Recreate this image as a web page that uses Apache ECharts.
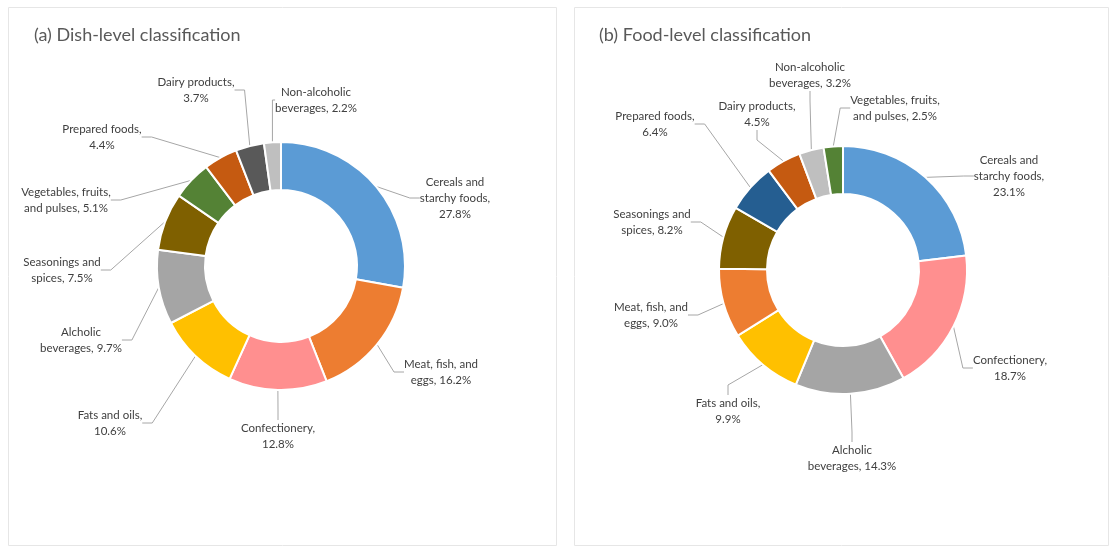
<!DOCTYPE html>
<html>
<head>
<meta charset="utf-8">
<title>Dish-level vs food-level classification</title>
<script src="https://cdn.jsdelivr.net/npm/echarts@6/dist/echarts.min.js"></script>
<style>
  html, body { margin: 0; padding: 0; background: #fff; }
  #chart { width: 1113px; height: 554px; }
</style>
</head>
<body>
<div id="chart"></div>
<script>
// (a) dish-level, clockwise from 12 o'clock
const dishNames = [
  'Cereals and\nstarchy foods', 'Meat, fish, and\neggs', 'Confectionery', 'Fats and oils',
  'Alcholic\nbeverages', 'Seasonings and\nspices', 'Vegetables, fruits,\nand pulses',
  'Prepared foods', 'Dairy products', 'Non-alcoholic\nbeverages'
]
const dishValues = [27.8, 16.2, 12.8, 10.6, 9.7, 7.5, 5.1, 4.4, 3.7, 2.2]
// percent goes on its own line for these
const dishBreak = [true, false, true, true, false, false, false, true, true, false]
const dishColors = ['#5b9bd5', '#ed7d31', '#ff8f8f', '#ffc000', '#a5a5a5', '#7f6000', '#548235', '#c55a11', '#595959', '#bfbfbf']

// (b) food-level
const foodNames = [
  'Cereals and\nstarchy foods', 'Confectionery', 'Alcholic\nbeverages', 'Fats and oils',
  'Meat, fish, and\neggs', 'Seasonings and\nspices', 'Prepared foods', 'Dairy products',
  'Non-alcoholic\nbeverages', 'Vegetables, fruits,\nand pulses'
]
const foodValues = [23.1, 18.7, 14.3, 9.9, 9.0, 8.2, 6.4, 4.5, 3.2, 2.5]
const foodBreak = [true, true, false, true, false, false, true, true, false, false]
const foodColors = ['#5b9bd5', '#ff8f8f', '#a5a5a5', '#ffc000', '#ed7d31', '#7f6000', '#255e91', '#c55a11', '#bfbfbf', '#548235']

const titles = ['(a) Dish-level classification', '(b) Food-level classification']

// where the data labels sit (label centres, like Excel's best-fit placement)
const dishLabelAt = [[455, 198], [441, 372], [278, 436], [110, 423], [81, 340], [62, 270], [66, 200], [102, 137], [196, 90], [316, 100]]
const foodLabelAt = [[1009, 176], [1010, 368], [852, 458], [728, 411], [651, 315], [652, 222], [655, 124], [757, 114], [810, 75], [895, 108]]
const labelAt = [dishLabelAt, foodLabelAt]

const chart = echarts.init(document.getElementById('chart'))

function makePie(names, values, breaks, colors, center) {
  return {
    type: 'pie',
    center: center,
    radius: [76, 124],
    startAngle: 90,
    clockwise: true,
    avoidLabelOverlap: false,
    itemStyle: { borderColor: '#fff', borderWidth: 2 },
    label: {
      show: true,
      position: 'outside',
      fontFamily: 'Lato',
      fontSize: 11.5,
      color: '#404040',
      lineHeight: 16,
      align: 'center',
      formatter: p => p.name + ',' + (breaks[p.dataIndex] ? '\n' : ' ') + p.value.toFixed(1) + '%'
    },
    labelLine: {
      show: true,
      length: 15,
      length2: 10,
      lineStyle: { color: '#a6a6a6', width: 1 }
    },
    labelLayout: p => {
      const at = labelAt[p.seriesIndex][p.dataIndex]
      return { x: at[0], y: at[1], align: 'center', verticalAlign: 'middle' }
    },
    emphasis: { disabled: true },
    data: names.map((n, i) => ({ name: n, value: values[i], itemStyle: { color: colors[i] } }))
  }
}

chart.setOption({
  animation: false,
  title: [
    { text: titles[0], left: 29, top: 21, textStyle: { fontFamily: 'Lato', fontSize: 18, fontWeight: 'normal', color: '#595959' } },
    { text: titles[1], left: 594, top: 21, textStyle: { fontFamily: 'Lato', fontSize: 18, fontWeight: 'normal', color: '#595959' } }
  ],
  graphic: [
    { type: 'rect', shape: { x: 8.5, y: 7.5, width: 548, height: 538 }, style: { fill: 'none', stroke: '#e6e6e6', lineWidth: 1 } },
    { type: 'rect', shape: { x: 574.5, y: 7.5, width: 534, height: 538 }, style: { fill: 'none', stroke: '#e6e6e6', lineWidth: 1 } }
  ],
  series: [
    makePie(dishNames, dishValues, dishBreak, dishColors, [281, 266]),
    makePie(foodNames, foodValues, foodBreak, foodColors, [843, 270])
  ]
})
</script>
</body>
</html>
